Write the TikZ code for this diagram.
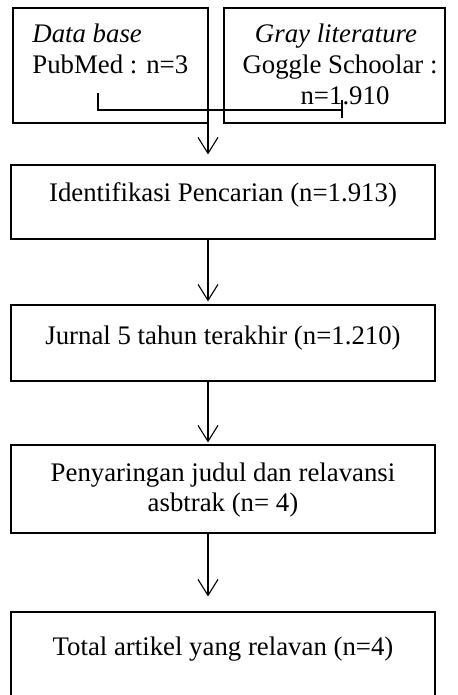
\documentclass[tikz,border=0pt]{standalone}
\usepackage{fontspec}
\setmainfont{Liberation Serif}
\usetikzlibrary{arrows.meta}
\begin{document}
\begin{tikzpicture}[x=0.5pt,y=-0.5pt,
  box/.style={draw, line width=0.6pt, inner sep=0pt, rectangle},
  txt/.style={inner sep=0pt, font=\fontsize{13.4}{15.5}\selectfont},
  conn/.style={line width=0.55pt},
  arr/.style={line width=0.55pt, -{Straight Barb[length=8pt,width=10pt]}}]
\useasboundingbox (0,0) rectangle (457,695);
% top boxes
\node[box, minimum width=97.5pt, minimum height=57.5pt] (db) at (110.5,65.5) {};
\node[box, minimum width=110.5pt, minimum height=57.5pt] (gl) at (334.5,65.5) {};
\node[txt, anchor=base west] (dbt1) at (32,43) {\itshape Data base};
\node[txt, anchor=base west] (dbt2) at (32,74) {PubMed : n=3};
\node[txt, anchor=base] (glt1) at (336,43) {\itshape Gray literature};
\node[txt, anchor=base] (glt2) at (340,74) {Goggle Schoolar :};
\node[txt, anchor=base] (glt3) at (345,105) {n=1.910};
% connector
\coordinate (c1) at (98,93);
\coordinate (c2) at (98,110);
\coordinate (c3) at (342,110);
\coordinate (t1) at (342,100);
\coordinate (t2) at (342,118);
\coordinate (j) at (208,110);
\draw[conn] (c1) -- (c2) -- (c3);
\draw[conn] (t1) -- (t2);
% main boxes
\node[box, minimum width=212pt, minimum height=37pt] (b2) at (223,202) {};
\node[txt, anchor=base] (b2t) at (223,202) {Identifikasi Pencarian (n=1.913)};
\node[box, minimum width=212pt, minimum height=38pt] (b3) at (223,343) {};
\node[txt, anchor=base] (b3t) at (223,344) {Jurnal 5 tahun terakhir (n=1.210)};
\node[box, minimum width=212pt, minimum height=44pt] (b4) at (223,489) {};
\node[txt, anchor=base] (b4t1) at (223,481) {Penyaringan judul dan relavansi};
\node[txt, anchor=base] (b4t2) at (223,511) {asbtrak (n= 4)};
\node[box, minimum width=212pt, minimum height=54pt] (b5) at (223,666) {};
\node[txt, anchor=base] (b5t) at (223,655) {Total artikel yang relavan (n=4)};
% arrows
\draw[arr, shorten >=5pt] (j) -- (j |- b2.north);
\draw[arr, shorten >=1.5pt] (j |- b2.south) -- (j |- b3.north);
\draw[arr, shorten >=1pt] (j |- b3.south) -- (j |- b4.north);
\draw[arr, shorten >=7.5pt] (j |- b4.south) -- (j |- b5.north);
\end{tikzpicture}
\end{document}
